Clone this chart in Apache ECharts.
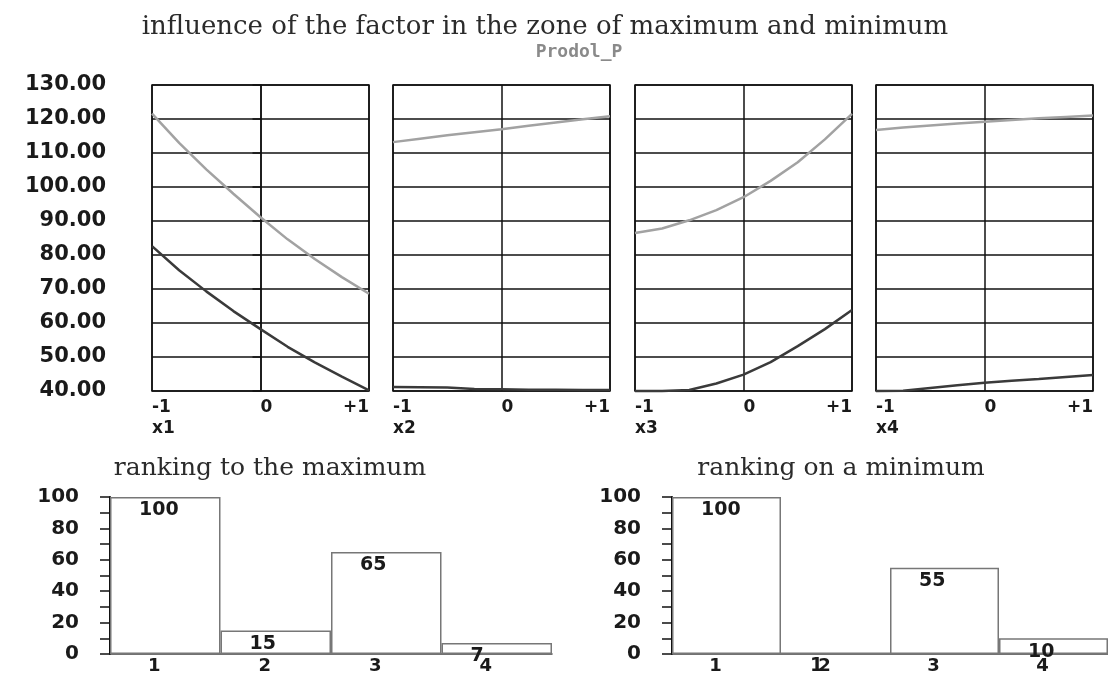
<!DOCTYPE html>
<html>
<head>
<meta charset="utf-8">
<script src="https://cdn.jsdelivr.net/npm/echarts@6/dist/echarts.min.js"></script>
<style>
  html, body { margin: 0; padding: 0; background: #fff; }
  #chart { width: 1108px; height: 675px; }
</style>
</head>
<body>
<div id="chart"></div>
<script>
// Factor levels (coded units) at which each response curve is sampled
const xs = [-1, -0.75, -0.5, -0.25, 0, 0.25, 0.5, 0.75, 1];
const factorNames = ['x1', 'x2', 'x3', 'x4'];

// Response Prodol_P in the zone of the maximum (light curves)
const maxX1 = [121.6, 113.0, 105.2, 98.0, 91.1, 84.6, 78.8, 73.5, 68.6];
const maxX2 = [113.2, 114.2, 115.2, 116.1, 117.0, 118.0, 119.0, 119.9, 120.8];
const maxX3 = [86.5, 87.8, 90.2, 93.2, 97.0, 101.8, 107.3, 114.0, 121.5];
const maxX4 = [116.8, 117.5, 118.1, 118.7, 119.2, 119.7, 120.2, 120.6, 121.0];

// Response Prodol_P in the zone of the minimum (dark curves)
const minX1 = [82.6, 75.5, 69.3, 63.5, 58.2, 53.0, 48.4, 44.2, 40.2];
const minX2 = [41.2, 41.1, 41.0, 40.6, 40.5, 40.4, 40.4, 40.3, 40.3];
const minX3 = [40.0, 40.0, 40.3, 42.2, 44.8, 48.5, 53.2, 58.2, 63.8];
const minX4 = [40.0, 40.1, 40.9, 41.7, 42.4, 43.0, 43.5, 44.1, 44.7];

// Response axis ticks
const yMin = 40, yMax = 130, yStep = 10;

// Factor rankings
const rankCats = ['1', '2', '3', '4'];
const rankMax = [100, 15, 65, 7];
const rankMin = [100, 1, 55, 10];

const maxCurves = [maxX1, maxX2, maxX3, maxX4];
const minCurves = [minX1, minX2, minX3, minX4];

const numFont = { fontFamily: 'DejaVu Sans', fontWeight: 'bold', color: '#1a1a1a' };
const serifTitle = { fontFamily: 'DejaVu Serif', fontWeight: 'normal', fontSize: 25, color: '#2b2b2b' };
const ink = '#111';

const panelLeft = [152, 393, 635, 876];
const panelTop = 85, panelW = 217, panelH = 306;

const grids = panelLeft.map(l => ({
  left: l, top: panelTop, width: panelW, height: panelH,
  show: true, borderColor: ink, borderWidth: 1.5, backgroundColor: 'transparent'
}));
grids.push({ left: 110, top: 497, width: 442, height: 161 });
grids.push({ left: 672, top: 497, width: 442, height: 161 });

const xAxes = factorNames.map((name, i) => ({
  gridIndex: i, type: 'value', min: -1, max: 1, interval: 1,
  axisLine: { show: false }, axisTick: { show: false },
  splitLine: { show: true, lineStyle: { color: ink, width: 1.5 } },
  axisLabel: {
    margin: 6, align: 'left', alignMaxLabel: 'right', lineHeight: 21,
    fontSize: 17, ...numFont,
    formatter: v => v === -1 ? '-1\n' + name : (v === 0 ? '0' : '+1')
  }
}));
const yAxes = factorNames.map((name, i) => ({
  gridIndex: i, type: 'value', min: yMin, max: yMax, interval: yStep,
  offset: i === 0 ? 24 : 0,
  axisLine: { show: i === 0, lineStyle: { color: ink, width: 1.5 } },
  axisTick: { show: i === 0, length: 8, lineStyle: { color: ink, width: 1.5 } },
  splitLine: { show: true, lineStyle: { color: ink, width: 1.5 } },
  axisLabel: { show: i === 0, margin: 22, fontSize: 21, ...numFont, formatter: v => v.toFixed(2) }
}));

[4, 5].forEach(g => {
  xAxes.push({
    gridIndex: g, type: 'category', data: rankCats,
    axisLine: { show: true, lineStyle: { color: '#444', width: 1.5 } },
    axisTick: { show: false },
    axisLabel: { margin: 3, padding: [0, 22, 0, 0], fontSize: 18, ...numFont }
  });
  yAxes.push({
    gridIndex: g, type: 'value', min: 0, max: 100, interval: 20,
    axisLine: { show: true, lineStyle: { color: ink, width: 2 } },
    axisTick: { show: true, length: 10, lineStyle: { color: ink, width: 1.5 } },
    minorTick: { show: true, splitNumber: 2, length: 10, lineStyle: { color: ink, width: 1.5 } },
    splitLine: { show: false },
    axisLabel: { margin: 31, fontSize: 20, ...numFont }
  });
});

const series = [];
factorNames.forEach((name, i) => {
  series.push({
    type: 'line', xAxisIndex: i, yAxisIndex: i, clip: false,
    showSymbol: false, silent: true,
    lineStyle: { color: '#a2a2a2', width: 2.5 },
    data: xs.map((x, k) => [x, maxCurves[i][k]])
  });
  series.push({
    type: 'line', xAxisIndex: i, yAxisIndex: i, clip: false,
    showSymbol: false, silent: true,
    lineStyle: { color: '#3a3a3a', width: 2.5 },
    data: xs.map((x, k) => [x, minCurves[i][k]])
  });
});
[[4, rankMax], [5, rankMin]].forEach(([g, vals]) => {
  series.push({
    type: 'bar', xAxisIndex: g, yAxisIndex: g,
    barCategoryGap: '0%',
    itemStyle: { color: '#fff', borderColor: '#777', borderWidth: 1.5 },
    label: {
      show: true, position: [29, 4], align: 'left', verticalAlign: 'top',
      fontSize: 19, ...numFont
    },
    data: vals
  });
});

const chart = echarts.init(document.getElementById('chart'), null, { renderer: 'canvas' });
chart.setOption({
  animation: false,
  backgroundColor: '#fff',
  title: [
    { text: 'influence of the factor in the zone of maximum and minimum', left: 545, top: 14,
      textAlign: 'center', padding: 0, textStyle: { ...serifTitle, fontSize: 26 } },
    { text: 'Prodol_P', left: 579, top: 43, textAlign: 'center', padding: 0,
      textStyle: { fontFamily: 'DejaVu Sans Mono', fontWeight: 'bold', fontSize: 18, color: '#8a8a8a' } },
    { text: 'ranking to the maximum', left: 270, top: 456, textAlign: 'center', padding: 0, textStyle: serifTitle },
    { text: 'ranking on a minimum', left: 841, top: 456, textAlign: 'center', padding: 0, textStyle: serifTitle }
  ],
  grid: grids,
  xAxis: xAxes,
  yAxis: yAxes,
  series: series
});
</script>
</body>
</html>
